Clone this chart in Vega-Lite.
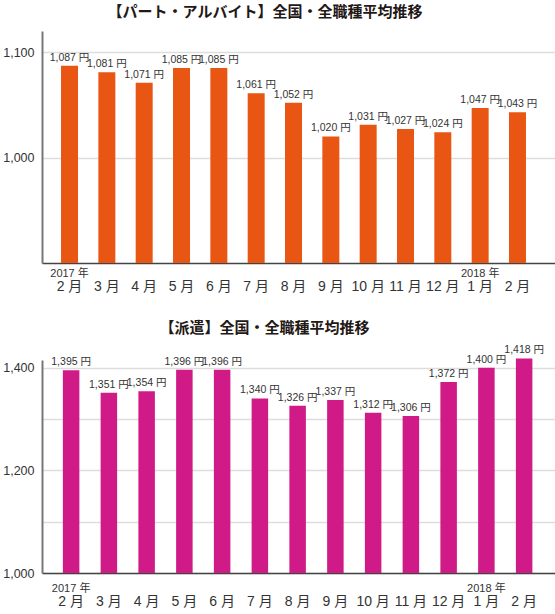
{
  "$schema": "https://vega.github.io/schema/vega-lite/v6.json",
  "padding": {"left": 2, "top": 5, "right": 0, "bottom": 0},
  "spacing": 28,
  "datasets": {
    "part": [
      {"ym": "2017年2月", "v": 1087},
      {"ym": "2017年3月", "v": 1081},
      {"ym": "2017年4月", "v": 1071},
      {"ym": "2017年5月", "v": 1085},
      {"ym": "2017年6月", "v": 1085},
      {"ym": "2017年7月", "v": 1061},
      {"ym": "2017年8月", "v": 1052},
      {"ym": "2017年9月", "v": 1020},
      {"ym": "2017年10月", "v": 1031},
      {"ym": "2017年11月", "v": 1027},
      {"ym": "2017年12月", "v": 1024},
      {"ym": "2018年1月", "v": 1047},
      {"ym": "2018年2月", "v": 1043}
    ],
    "haken": [
      {"ym": "2017年2月", "v": 1395},
      {"ym": "2017年3月", "v": 1351},
      {"ym": "2017年4月", "v": 1354},
      {"ym": "2017年5月", "v": 1396},
      {"ym": "2017年6月", "v": 1396},
      {"ym": "2017年7月", "v": 1340},
      {"ym": "2017年8月", "v": 1326},
      {"ym": "2017年9月", "v": 1337},
      {"ym": "2017年10月", "v": 1312},
      {"ym": "2017年11月", "v": 1306},
      {"ym": "2017年12月", "v": 1372},
      {"ym": "2018年1月", "v": 1400},
      {"ym": "2018年2月", "v": 1418}
    ]
  },
  "vconcat": [
    {
      "title": {"text": "【パート・アルバイト】全国・全職種平均推移", "dx": -34, "offset": 11},
      "width": 514,
      "height": 232,
      "data": {"name": "part"},
      "layer": [
        {
          "mark": {"type": "bar", "color": "#E95513"},
          "encoding": {
            "x": {"field": "ym", "type": "ordinal", "sort": null,
              "scale": {"paddingInner": 0.545, "paddingOuter": 0.657, "align": 0.388},
              "axis": {"orient": "bottom", "labelExpr": "replace(split(datum.value, '年')[1], '月', ' 月')", "labelPadding": 16, "labelFontSize": 14, "labelOverlap": false, "labelAngle": 0, "title": null}},
            "y": {"field": "v", "type": "quantitative",
              "scale": {"domain": [900, 1120], "nice": false, "zero": false},
              "axis": {"values": [1000, 1100], "format": ",d", "title": null}},
            "y2": {"datum": 900}
          }
        },
        {
          "mark": {"type": "text", "baseline": "alphabetic", "dy": -5, "fontSize": 10.5, "color": "#333333"},
          "encoding": {
            "x": {"field": "ym", "type": "ordinal", "sort": null,
              "axis": {"orient": "bottom", "domain": false, "labelExpr": "datum.value == '2017年2月' ? '2017 年' : (datum.value == '2018年1月' ? '2018 年' : '')", "labelPadding": 4, "labelFontSize": 11, "labelOverlap": false, "labelAngle": 0, "title": null}},
            "y": {"field": "v", "type": "quantitative"},
            "text": {"field": "v", "type": "quantitative", "format": "$,"}
          }
        }
      ],
      "resolve": {"axis": {"x": "independent"}}
    },
    {
      "title": {"text": "【派遣】全国・全職種平均推移", "dx": -34, "offset": 9},
      "width": 513,
      "height": 213,
      "data": {"name": "haken"},
      "layer": [
        {
          "mark": {"type": "bar", "color": "#CF1A87"},
          "encoding": {
            "x": {"field": "ym", "type": "ordinal", "sort": null,
              "scale": {"paddingInner": 0.563, "paddingOuter": 0.576, "align": 0.48},
              "axis": {"orient": "bottom", "labelExpr": "replace(split(datum.value, '年')[1], '月', ' 月')", "labelPadding": 21, "labelFontSize": 14, "labelOverlap": false, "labelAngle": 0, "title": null}},
            "y": {"field": "v", "type": "quantitative",
              "scale": {"domain": [1000, 1415], "nice": false, "zero": false},
              "axis": {"values": [1000, 1100, 1200, 1300, 1400], "labelExpr": "datum.value % 200 == 0 ? format(datum.value, ',d') : ''", "title": null}},
            "y2": {"datum": 1000}
          }
        },
        {
          "mark": {"type": "text", "baseline": "alphabetic", "dy": -5, "fontSize": 10.5, "color": "#333333"},
          "encoding": {
            "x": {"field": "ym", "type": "ordinal", "sort": null,
              "axis": {"orient": "bottom", "domain": false, "labelExpr": "datum.value == '2017年2月' ? '2017 年' : (datum.value == '2018年1月' ? '2018 年' : '')", "labelPadding": 9, "labelFontSize": 11, "labelOverlap": false, "labelAngle": 0, "title": null}},
            "y": {"field": "v", "type": "quantitative"},
            "text": {"field": "v", "type": "quantitative", "format": "$,"}
          }
        }
      ],
      "resolve": {"axis": {"x": "independent"}}
    }
  ],
  "config": {
    "locale": {"number": {"decimal": ".", "thousands": ",", "grouping": [3], "currency": ["", " 円"]}},
    "font": "Liberation Sans, Noto Sans CJK JP",
    "view": {"stroke": null},
    "title": {"font": "Noto Sans CJK JP", "fontSize": 15, "fontWeight": "bold", "color": "#231815", "anchor": "middle"},
    "text": {"font": "Liberation Sans, Noto Sans CJK JP"},
    "axis": {"labelFont": "Liberation Sans, Noto Sans CJK JP", "labelColor": "#333333", "ticks": false},
    "axisY": {"domainColor": "#777777", "domainWidth": 2, "gridColor": "#dddddd", "gridWidth": 1.5, "labelFontSize": 12.5, "labelPadding": 8},
    "axisX": {"domainColor": "#444444", "domainWidth": 1.5, "grid": false}
  }
}
